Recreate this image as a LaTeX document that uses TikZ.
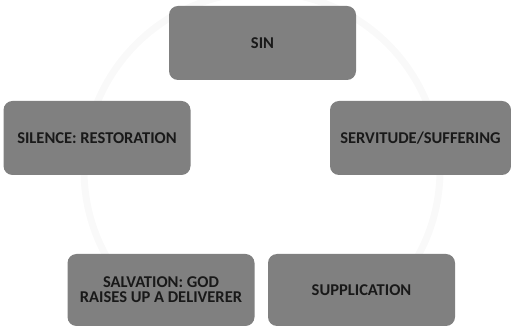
\documentclass[tikz,border=0pt]{standalone}
\usepackage{fontspec}
\setmainfont{Carlito}
\tikzset{stage/.style={rectangle, rounded corners=9pt, fill=black!50, draw=none,
    minimum width=187pt, minimum height=74pt, align=center,
    text=black!90, font=\bfseries\fontsize{16.5}{15}\selectfont},
  ring/.style={draw=black!2.5, line width=7pt}}

\begin{document}
\begin{tikzpicture}[x=1pt,y=1pt]
\useasboundingbox (0,0) rectangle (511,326);

% faint cycle behind the boxes
\draw[ring] (262,156) circle (178);

\node[stage] (SIN)  at (262.5,283) {SIN};
\node[stage] (SIL)  at (97,188)    {SILENCE: RESTORATION};
\node[stage, minimum width=181pt] (SERV) at (420.5,188) {SERVITUDE/SUFFERING};
\node[stage, minimum height=72pt] (SALV) at (161,36)  {SALVATION: GOD\\RAISES UP A DELIVERER};
\node[stage, minimum height=72pt] (SUPP) at (361.5,36) {SUPPLICATION};

\end{tikzpicture}
\end{document}
